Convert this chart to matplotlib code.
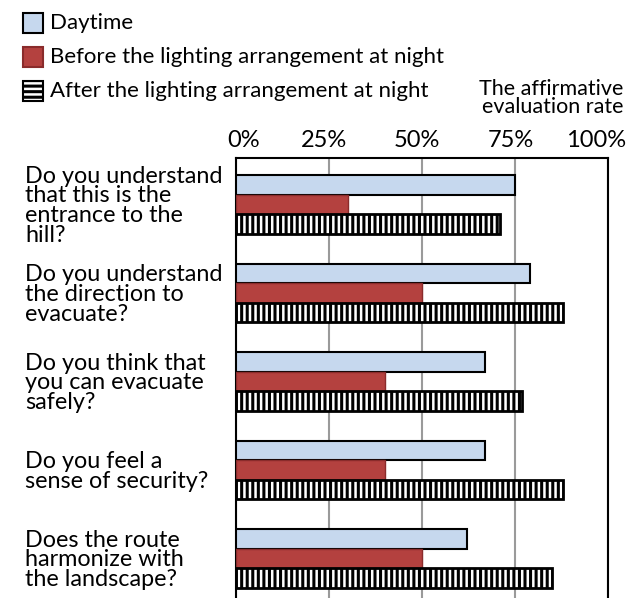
import numpy as np
import matplotlib
matplotlib.use('Agg')
import matplotlib.pyplot as plt
import matplotlib.transforms as mtransforms
from matplotlib.patches import Rectangle

plt.rcParams['font.family'] = ['Lato', 'DejaVu Sans']
plt.rcParams['hatch.linewidth'] = 2.2

questions = [
    'Do you understand\nthat this is the\nentrance to the\nhill?',
    'Do you understand\nthe direction to\nevacuate?',
    'Do you think that\nyou can evacuate\nsafely?',
    'Do you feel a\nsense of security?',
    'Does the route\nharmonize with\nthe landscape?',
]
daytime = [75, 79, 67, 67, 62]
before_night = [30, 50, 40, 40, 50]
after_night = [71, 88, 77, 88, 85]
series_names = ['Daytime', 'Before the lighting arrangement at night',
                'After the lighting arrangement at night']
xticks = [0, 25, 50, 75, 100]

fig = plt.figure(figsize=(6.38, 5.98), dpi=100)
ax = fig.add_axes([236 / 638, 1 - 605 / 598, 372 / 638, 447 / 598])

y = np.arange(len(questions))
h = 0.22
ax.barh(y - h, daytime, height=h, color='#c6d8ee', edgecolor='black', lw=1.5, zorder=3)
ax.barh(y, before_night, height=h, color='#b4413f', edgecolor='#8a2b2b', lw=1, zorder=3)
ax.barh(y + h, after_night, height=h, color='white', edgecolor='black', lw=2,
        hatch='|||', zorder=3)

ax.set_xlim(0, 100)
ax.set_ylim(len(questions) - 0.475, -0.525)
ax.set_xticks(xticks)
ax.set_xticklabels([f'{t}%' for t in xticks], fontsize=17)
ax.xaxis.tick_top()
ax.tick_params(axis='x', length=0, pad=5)
# the scanned labels sit a little off their gridlines
shifts = [8, -5, -5, -4, -12]
for lbl, dx in zip(ax.get_xticklabels(), shifts):
    lbl.set_transform(lbl.get_transform() +
                      mtransforms.ScaledTranslation(dx / 100, 0, fig.dpi_scale_trans))
ax.grid(axis='x', color='#9a9a9a', lw=1.5, zorder=0)

ax.set_yticks(y)
ax.set_yticklabels(questions, fontsize=16.8, linespacing=0.93)
ax.tick_params(axis='y', length=0, pad=152)
for lbl in ax.get_yticklabels():
    lbl.set_ha('left')

for side in ['left', 'right', 'top', 'bottom']:
    ax.spines[side].set_linewidth(1.5)
    ax.spines[side].set_color('black')

# legend drawn manually at top left
leg_y = [23, 57, 91]
faces = ['#c6d8ee', '#b4413f', 'white']
for i, (name, fc) in enumerate(zip(series_names, faces)):
    yc = 1 - leg_y[i] / 598
    r = Rectangle((23 / 638, yc - 10 / 598), 20 / 638, 20 / 598, transform=fig.transFigure,
                  facecolor=fc, edgecolor='black' if i != 1 else '#8a2b2b',
                  lw=1.5, hatch='---' if i == 2 else None)
    fig.patches.append(r)
    fig.text(50 / 638, yc, name, fontsize=16, va='center', ha='left')

fig.text(623 / 638, 1 - 98 / 598, 'The affirmative\nevaluation rate', fontsize=15.5,
         ha='right', va='center', multialignment='right', linespacing=0.9)

fig.savefig('out.png', dpi=100)
